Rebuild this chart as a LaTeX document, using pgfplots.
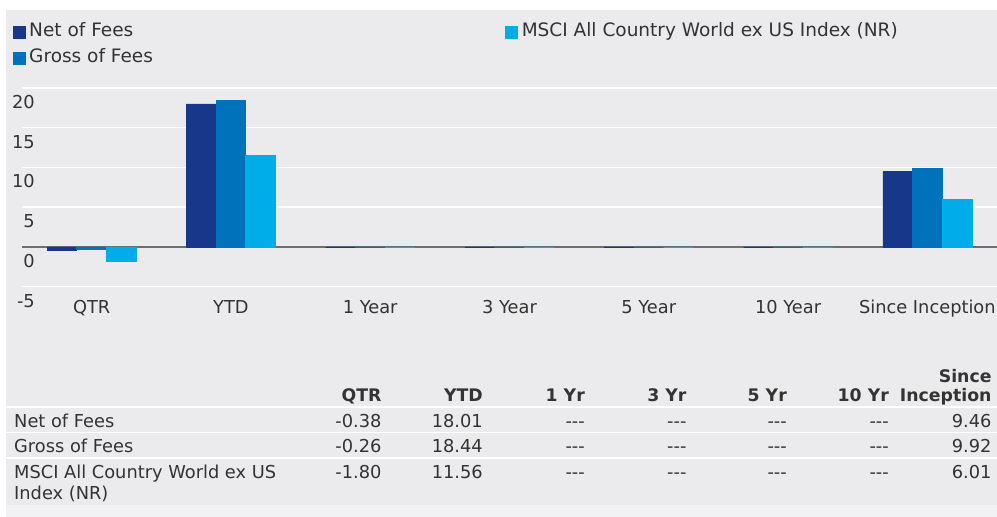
\documentclass[border=0pt]{standalone}
\usepackage{pgfplots}
\pgfplotsset{compat=1.18}
\usepackage{fontspec}
\setmainfont{DejaVu Sans}
\definecolor{bgc}{HTML}{EBEBED}
\definecolor{bandc}{HTML}{F2F2F4}
\definecolor{netc}{HTML}{17388A}
\definecolor{grossc}{HTML}{0071BB}
\definecolor{mscic}{HTML}{00ADE8}
\definecolor{zeroc}{HTML}{6E6E6E}
\definecolor{txt}{HTML}{333333}
\newcommand{\fs}{\fontsize{17.8}{20}\selectfont}
\newcommand{\tfs}{\fontsize{17.8}{20}\selectfont}
\newcommand{\tfb}{\fontsize{17.3}{20}\selectfont\bfseries}
\begin{document}
\begin{tikzpicture}
\path[use as bounding box] (0pt,0pt) rectangle (997pt,517pt);
\fill[bgc] (6pt,12pt) rectangle (997pt,507pt);
\fill[bandc] (6pt,0pt) rectangle (997pt,12pt);
\begin{axis}[
  at={(22pt,230.3pt)}, anchor=south west,
  scale only axis, width=975pt, height=198.7pt,
  xmin=-0.5, xmax=6.5, ymin=-5, ymax=20,
  axis line style={draw=none},
  major tick length=0pt,
  ytick={-5,0,5,10,15,20},
  yticklabels={-5,0,5,10,15,20},
  xtick={0,1,2,3,4,5,6},
  xticklabels={QTR,YTD,1 Year,3 Year,5 Year,10 Year,Since Inception},
  ymajorgrids, grid style={white, line width=1.5pt},
  yticklabel style={anchor=base east, inner sep=0pt, xshift=13pt, yshift=-20.5pt, font=\fs, text=txt},
  xticklabel style={anchor=base, inner sep=0pt, yshift=-26.6pt, font=\fs, text=txt},
  ybar=0pt, bar width=29.7pt,
  legend columns=2, transpose legend, legend cell align=left,
  legend style={draw=none, fill=none, inner sep=0pt,
    at={(axis description cs:-0.00954,1.3236)}, anchor=north west,
    font=\fontsize{18.5}{21}\selectfont, text=txt, row sep=9pt,
    nodes={inner sep=0pt, text height=13pt, text depth=4pt},
    /tikz/every odd column/.append style={column sep=4pt},
    /tikz/every even column/.append style={column sep=352.5pt}},
  legend image code/.code={\fill[#1] (0pt,-5.8pt) rectangle (11.7pt,5.8pt);},
]
\draw[zeroc, line width=1.7pt] (axis cs:-0.5,0) -- (axis cs:6.5,0);
\addplot[fill=netc, draw=netc, line width=0.6pt] coordinates {(0,-0.38) (1,18.01) (2,0) (3,0) (4,0) (5,0) (6,9.46)};
\addplot[fill=grossc, draw=grossc, line width=0.6pt] coordinates {(0,-0.26) (1,18.44) (2,0) (3,0) (4,0) (5,0) (6,9.92)};
\addplot[fill=mscic, draw=mscic, line width=0.6pt] coordinates {(0,-1.80) (1,11.56) (2,0) (3,0) (4,0) (5,0) (6,6.01)};
\legend{Net of Fees, Gross of Fees, MSCI All Country World ex US Index (NR)}
\end{axis}
% table separators
\draw[white, line width=1.5pt] (6pt,110pt) -- (997pt,110pt);
\draw[white, line width=1.5pt] (6pt,84.3pt) -- (997pt,84.3pt);
\draw[white, line width=1.5pt] (6pt,59pt) -- (997pt,59pt);
\begin{scope}[every node/.style={inner sep=0pt, text=txt, font=\tfs}]
% header
\node[anchor=base east, font=\tfb] at (381.7pt,115.3pt) {QTR};
\node[anchor=base east, font=\tfb] at (483pt,115.3pt) {YTD};
\node[anchor=base east, font=\tfb] at (585pt,115.3pt) {1 Yr};
\node[anchor=base east, font=\tfb] at (686.7pt,115.3pt) {3 Yr};
\node[anchor=base east, font=\tfb] at (787pt,115.3pt) {5 Yr};
\node[anchor=base east, font=\tfb] at (889pt,115.3pt) {10 Yr};
\node[anchor=base east, font=\tfb] at (991.7pt,134.7pt) {Since};
\node[anchor=base east, font=\tfb] at (991.7pt,115.3pt) {Inception};
% row labels
\node[anchor=base west] at (14pt,89.7pt) {Net of Fees};
\node[anchor=base west] at (14pt,64.3pt) {Gross of Fees};
\node[anchor=base west] at (14pt,38.7pt) {MSCI All Country World ex US};
\node[anchor=base west] at (14pt,17.3pt) {Index (NR)};
% row 1
\node[anchor=base east] at (381.7pt,89.7pt) {-0.38};
\node[anchor=base east] at (483pt,89.7pt) {18.01};
\node[anchor=base east] at (585pt,89.7pt) {-{}-{}-};
\node[anchor=base east] at (686.7pt,89.7pt) {-{}-{}-};
\node[anchor=base east] at (787pt,89.7pt) {-{}-{}-};
\node[anchor=base east] at (889pt,89.7pt) {-{}-{}-};
\node[anchor=base east] at (991.7pt,89.7pt) {9.46};
% row 2
\node[anchor=base east] at (381.7pt,64.3pt) {-0.26};
\node[anchor=base east] at (483pt,64.3pt) {18.44};
\node[anchor=base east] at (585pt,64.3pt) {-{}-{}-};
\node[anchor=base east] at (686.7pt,64.3pt) {-{}-{}-};
\node[anchor=base east] at (787pt,64.3pt) {-{}-{}-};
\node[anchor=base east] at (889pt,64.3pt) {-{}-{}-};
\node[anchor=base east] at (991.7pt,64.3pt) {9.92};
% row 3
\node[anchor=base east] at (381.7pt,38.7pt) {-1.80};
\node[anchor=base east] at (483pt,38.7pt) {11.56};
\node[anchor=base east] at (585pt,38.7pt) {-{}-{}-};
\node[anchor=base east] at (686.7pt,38.7pt) {-{}-{}-};
\node[anchor=base east] at (787pt,38.7pt) {-{}-{}-};
\node[anchor=base east] at (889pt,38.7pt) {-{}-{}-};
\node[anchor=base east] at (991.7pt,38.7pt) {6.01};
\end{scope}
\end{tikzpicture}
\end{document}
